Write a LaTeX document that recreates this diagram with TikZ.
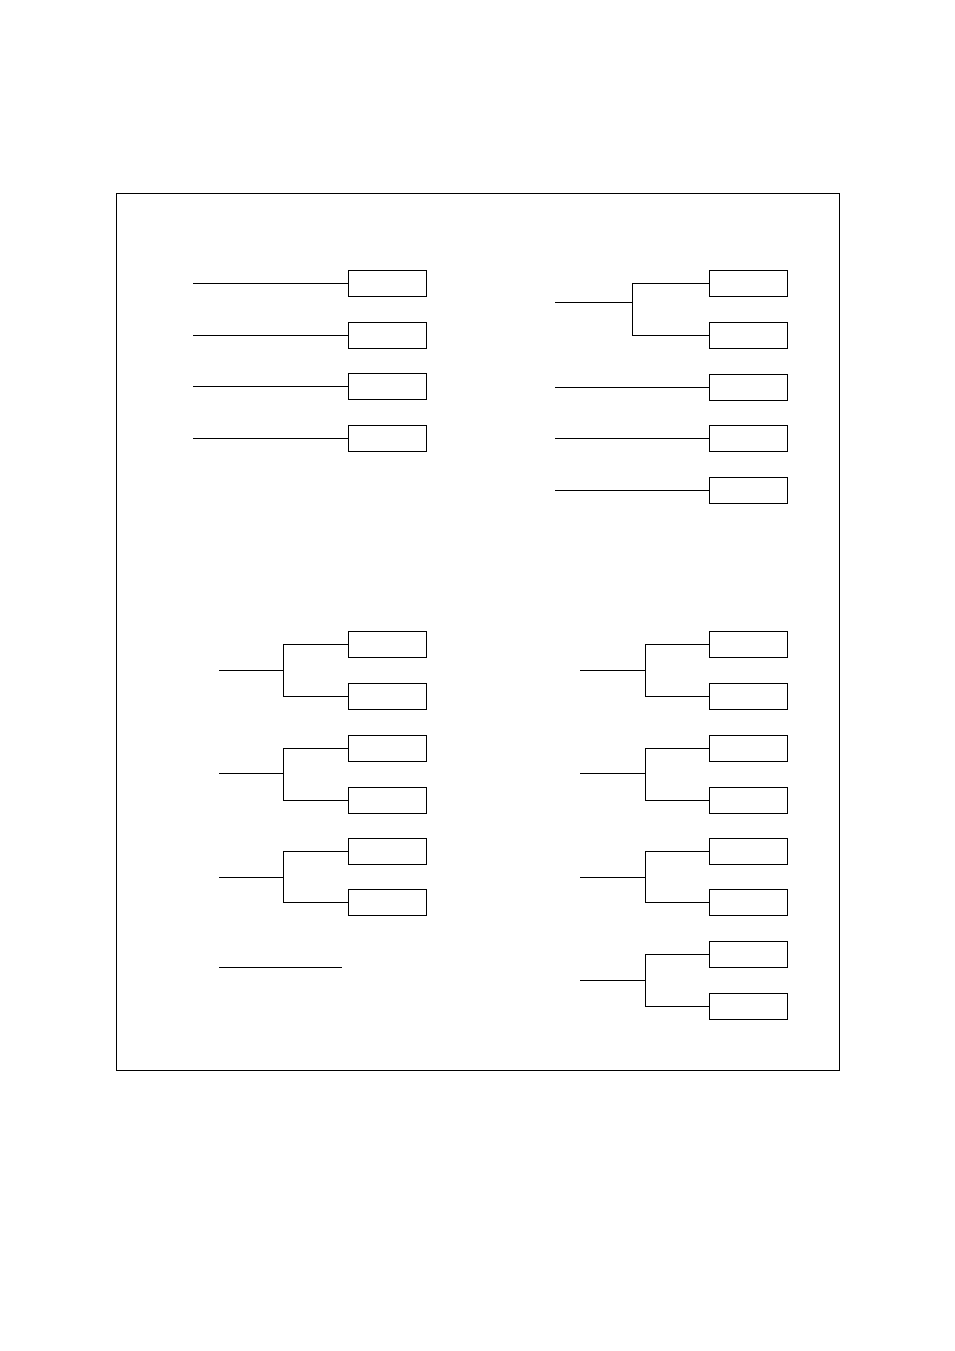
\documentclass[tikz,border=0pt]{standalone}
\usetikzlibrary{positioning}
\tikzset{box/.style={draw, minimum width=78pt, minimum height=26pt, inner sep=0pt}}

\begin{document}
\begin{tikzpicture}[x=1pt,y=-1pt,line width=0.8pt]
    \useasboundingbox (0,0) rectangle (954,1351);
    \draw (116,193) rectangle (839,1070);
    % top left
    \foreach \i/\y in {1/283,2/335,3/386,4/438} {
        \node[box] (tl\i) at (387,\y) {};
        \coordinate (tlin\i) at (193,\y);
        \draw (tlin\i) -- (tl\i.west);
    }
    % top right
    \node[box] (tr1) at (748,283) {};
    \node[box] (tr2) at (748,335) {};
    \coordinate (trin) at (555,302);
    \coordinate (trfork) at (632,302);
    \draw (trin) -- (trfork) |- (tr1.west);
    \draw (trfork) |- (tr2.west);
    \foreach \i/\y in {3/387,4/438,5/490} {
        \node[box] (tr\i) at (748,\y) {};
        \coordinate (trin\i) at (555,\y);
        \draw (trin\i) -- (tr\i.west);
    }
    % bottom left
    \foreach \i/\ya/\yb/\yin in {1/644.5/696/670,2/748/800/773,3/851/902.5/877} {
        \node[box] (bla\i) at (387,\ya) {};
        \node[box] (blb\i) at (387,\yb) {};
        \coordinate (blin\i) at (219,\yin);
        \coordinate (blfork\i) at (283,\yin);
        \draw (blin\i) -- (blfork\i) |- (bla\i.west);
        \draw (blfork\i) |- (blb\i.west);
    }
    \coordinate (lonea) at (219,967);
    \coordinate (loneb) at (342,967);
    \draw (lonea) -- (loneb);
    % bottom right
    \foreach \i/\ya/\yb/\yin in {1/644.5/696/670,2/748/800/773,3/851/902.5/877,4/954/1006/980} {
        \node[box] (bra\i) at (748,\ya) {};
        \node[box] (brb\i) at (748,\yb) {};
        \coordinate (brin\i) at (580,\yin);
        \coordinate (brfork\i) at (645,\yin);
        \draw (brin\i) -- (brfork\i) |- (bra\i.west);
        \draw (brfork\i) |- (brb\i.west);
    }
\end{tikzpicture}
\end{document}
